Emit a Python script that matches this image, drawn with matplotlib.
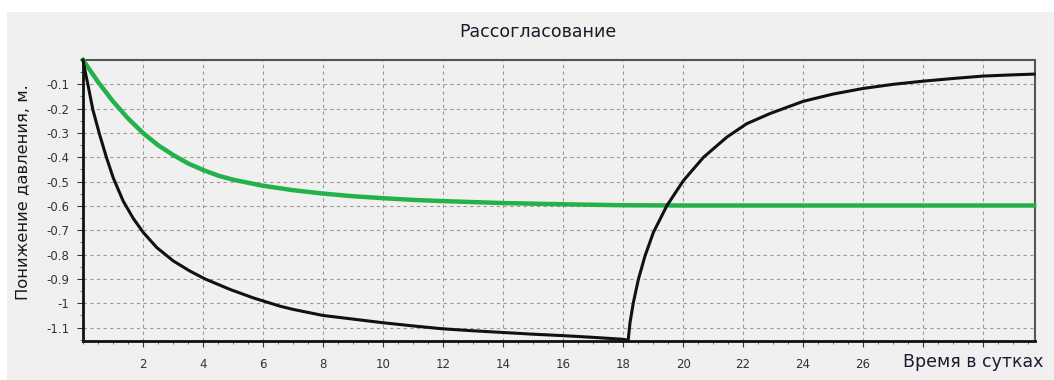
import matplotlib
matplotlib.use('Agg')
import matplotlib.pyplot as plt
from matplotlib.patches import Rectangle
from matplotlib.ticker import MultipleLocator, FixedLocator

# Black series: computed drawdown (days, metres)
black_days = [0, 0.08, 0.17, 0.33, 0.55, 0.78, 1.01, 1.34, 1.68, 2.01,
              2.46, 3.01, 3.57, 4.07, 4.9, 5.68, 6.57, 7, 8, 9, 10, 11, 12, 13,
              14, 15, 16, 17, 18, 18.17, 18.23, 18.34, 18.51, 18.73, 19.01,
              19.46, 20.01, 20.68, 21.46, 22.12, 22.9, 24, 25, 26, 27, 28, 29,
              30, 31, 31.7]
black_vals = [0, -0.052, -0.105, -0.205, -0.305, -0.4, -0.485,
              -0.58, -0.652, -0.709, -0.771, -0.826, -0.868, -0.9, -0.943,
              -0.978, -1.012, -1.025, -1.05, -1.065, -1.08, -1.093, -1.105,
              -1.113, -1.12, -1.127, -1.133, -1.14, -1.148, -1.152, -1.081,
              -0.999, -0.902, -0.806, -0.709, -0.599, -0.496, -0.4, -0.317,
              -0.262, -0.22, -0.17, -0.14, -0.117, -0.1, -0.087, -0.076,
              -0.066, -0.061, -0.058]

# Green series
green_days = [0, 0.5, 1, 1.5, 2, 2.5, 3, 3.5, 4, 4.5, 5, 6, 7, 8, 9, 10, 11,
              12, 14, 16, 18, 20, 24, 28, 31.7]
green_vals = [0, -0.09, -0.17, -0.24, -0.30, -0.35, -0.39, -0.425, -0.452,
              -0.475, -0.492, -0.517, -0.535, -0.549, -0.56, -0.568, -0.575,
              -0.58, -0.588, -0.593, -0.597, -0.598, -0.598, -0.598, -0.598]

x_ticks = [2, 4, 6, 8, 10, 12, 14, 16, 18, 20, 22, 24, 26]
y_ticks = [-1.1, -1, -0.9, -0.8, -0.7, -0.6, -0.5, -0.4, -0.3, -0.2, -0.1]
y_labels = ['-1.1', '-1', '-0.9', '-0.8', '-0.7', '-0.6', '-0.5', '-0.4',
            '-0.3', '-0.2', '-0.1']

bg = '#f0f0f0'
plt.rcParams['font.family'] = 'DejaVu Sans'

fig = plt.figure(figsize=(10.54, 3.8), dpi=100, facecolor='white')
fig.patches.append(Rectangle((7 / 1054, 0), 1, 1 - 12 / 380,
                             transform=fig.transFigure, facecolor=bg,
                             edgecolor='none', zorder=-10))

ax = fig.add_axes([83 / 1054, 39 / 380, 952 / 1054, 281 / 380])
ax.set_facecolor(bg)

ax.plot(green_days, green_vals, color='#22b24c', linewidth=3.2, zorder=3,
        clip_on=False, solid_joinstyle='round')
ax.plot(black_days, black_vals, color='#111111', linewidth=2.2, zorder=4,
        clip_on=False, solid_joinstyle='round')

ax.set_xlim(0, 31.73)
ax.set_ylim(-1.155, 0)

ax.xaxis.set_major_locator(FixedLocator([2 * i for i in range(1, 16)]))
ax.xaxis.set_minor_locator(MultipleLocator(0.5))
ax.set_xticklabels([str(v) if v in x_ticks else '' for v in range(2, 31, 2)])
ax.yaxis.set_major_locator(FixedLocator(y_ticks))
ax.set_yticklabels(y_labels)
ax.yaxis.set_minor_locator(MultipleLocator(0.05))

ax.tick_params(axis='both', which='major', labelsize=8.5, length=4,
               color='#333333', labelcolor='#333333')
ax.tick_params(axis='both', which='minor', length=2.5, color='#555555')
ax.tick_params(axis='x', pad=8)
ax.tick_params(axis='y', pad=6)

ax.grid(True, which='major', linestyle=(0, (3, 3)), color='#9a9a9a',
        linewidth=0.8)

for side in ['top', 'right']:
    ax.spines[side].set_color('#555555')
    ax.spines[side].set_linewidth(1.5)
for side in ['left', 'bottom']:
    ax.spines[side].set_color('#111111')
    ax.spines[side].set_linewidth(2.0)

fig.text(538 / 1054, 1 - 32 / 380, 'Рассогласование', ha='center',
         va='center', fontsize=12.5, color='#1a1a2a')
fig.text(24 / 1054, 1 - 192 / 380, 'Понижение давления, м.', rotation=90,
         ha='center', va='center', fontsize=11.8, color='#1a1a1a')
fig.text(1043 / 1054, 1 - 362 / 380, 'Время в сутках', ha='right',
         va='center', fontsize=12.5, color='#1a1a30')

fig.savefig('out.png', dpi=100, facecolor='white')
